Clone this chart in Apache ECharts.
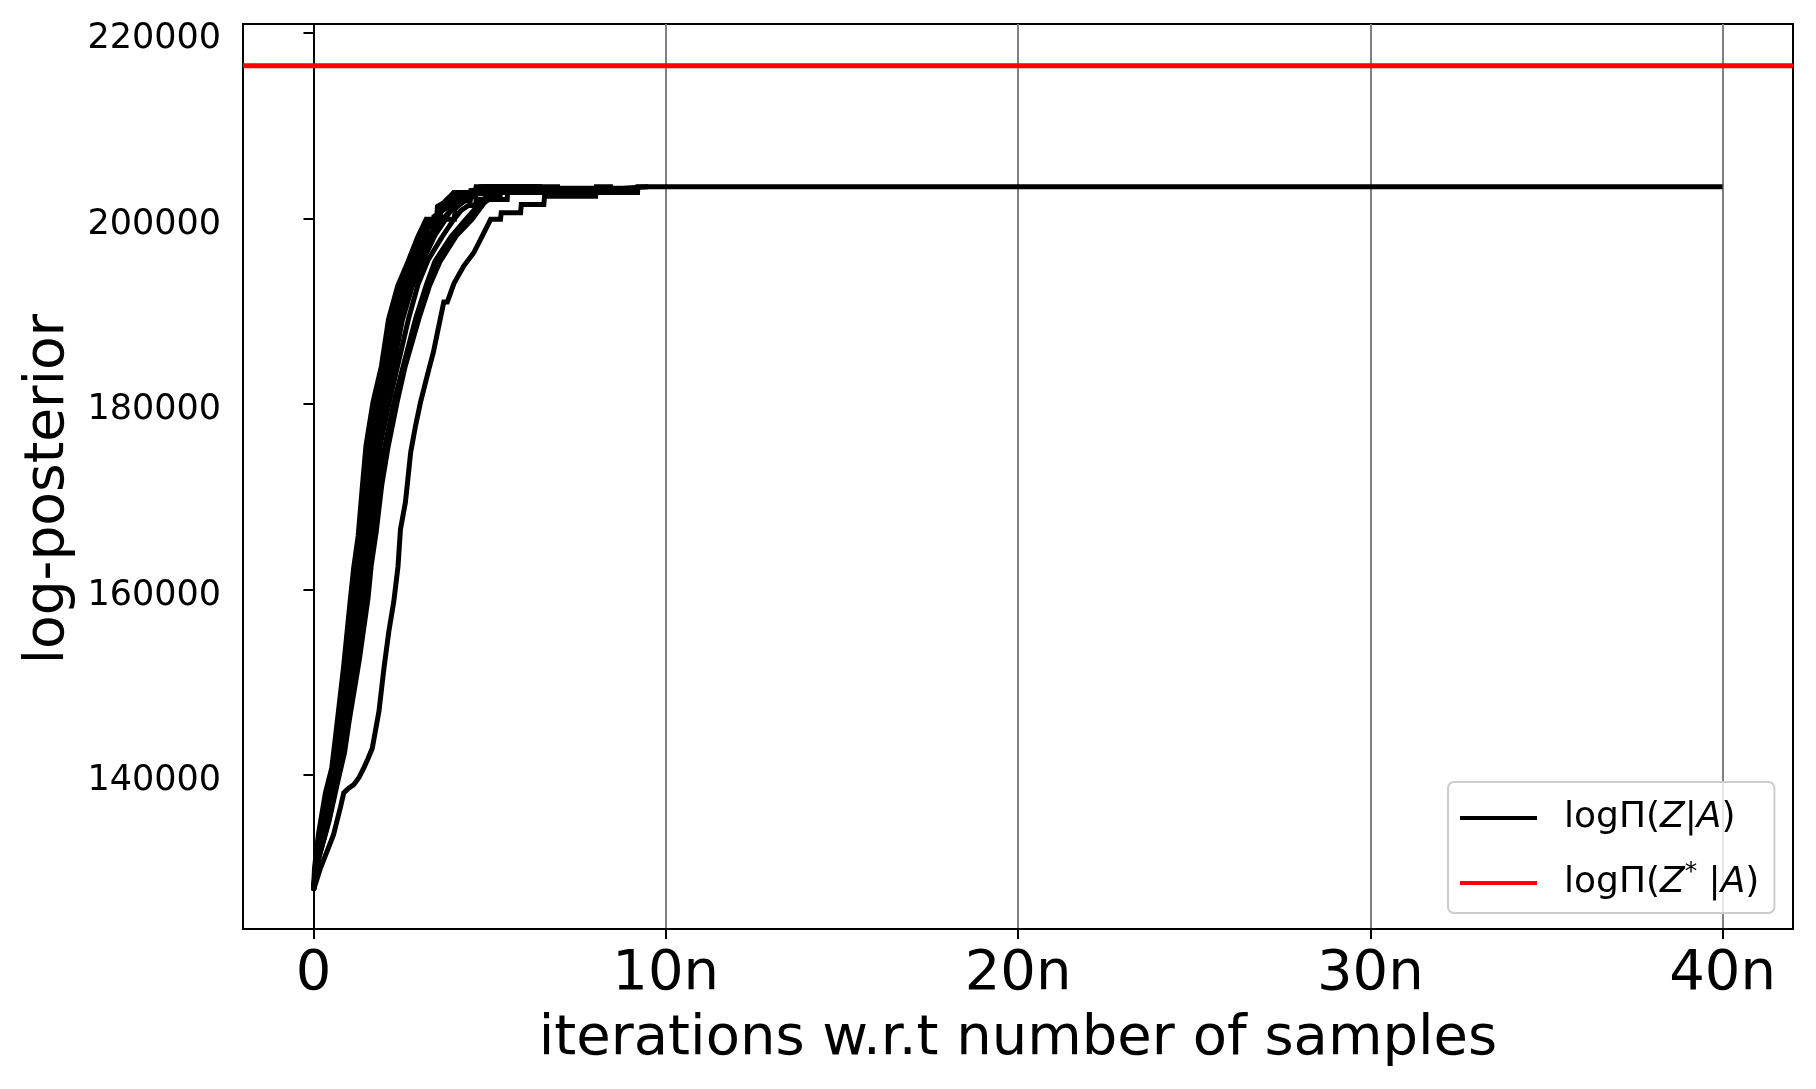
<!DOCTYPE html>
<html>
<head>
<meta charset="utf-8">
<script src="https://cdn.jsdelivr.net/npm/echarts@6/dist/echarts.min.js"></script>
<style>
html,body{margin:0;padding:0;background:#fff;}
#c{width:1816px;height:1089px;}
</style>
</head>
<body>
<div id="c"></div>
<script>
// ---- data (x in units of n = number of samples, y = log-posterior) ----
const xTickValues = [0, 10, 20, 30, 40];
const xTickLabels = ['0', '10n', '20n', '30n', '40n'];
const yTickValues = [140000, 160000, 180000, 200000, 220000];
const optimumValue = 216450;   // log Pi(Z*|A)
const xRange = [-2, 42];
const yRange = [123430, 220950];

const runSlow = [[0,127600],[0.2,130000],[0.57,133600],[0.77,136600],[0.86,138100],[1.0,138600],[1.15,139000],[1.3,139800],[1.43,140800],[1.55,141800],[1.67,142900],[1.86,146900],[2.0,151500],[2.14,155500],[2.28,158700],[2.4,162500],[2.47,166500],[2.61,169400],[2.76,174800],[2.9,177700],[3.04,180200],[3.18,182300],[3.28,183800],[3.4,185500],[3.52,187700],[3.7,191000],[3.8,191000],[3.99,193000],[4.27,194900],[4.55,196300],[4.79,198100],[5.03,199900],[5.31,199900],[5.33,200600],[5.88,200600],[5.9,201500],[6.54,201500],[6.56,202380],[8.01,202380],[8.03,203400],[8.5,203400]];
const runA = [[0,127600],[0.07,130300],[0.22,133900],[0.44,138200],[0.6,141100],[0.72,144600],[0.93,151300],[1.14,158600],[1.24,162200],[1.37,165700],[1.49,171100],[1.6,175300],[1.8,180100],[2.06,184200],[2.27,189000],[2.55,192800],[2.82,195400],[3.1,198000],[3.35,199500],[3.6,200800],[3.8,201900],[3.99,202800],[9.2,202800],[9.21,203400],[40,203400]];
const runB = [[0,127600],[0.03,130000],[0.14,133600],[0.34,138100],[0.52,140800],[0.63,144300],[0.85,151500],[1.04,158700],[1.14,162300],[1.27,165800],[1.39,171200],[1.49,175500],[1.69,180200],[1.93,184100],[2.13,189100],[2.39,192700],[2.68,195300],[2.96,198000],[3.2,199900],[3.5,199900],[3.52,201300],[3.7,201700],[3.99,202800],[4.74,202800],[4.75,203400],[5.2,203400]];
const runC = [[0,127600],[0.06,130200],[0.2,133800],[0.4,138000],[0.58,141000],[0.69,144500],[0.9,151200],[1.1,158500],[1.2,162000],[1.33,165600],[1.45,170800],[1.56,175200],[1.76,180000],[2.02,184300],[2.22,188800],[2.5,192500],[2.8,195000],[3.05,197600],[3.3,199700],[3.6,199700],[3.62,200900],[3.85,201800],[4.1,202500],[4.6,202500],[4.62,203400],[5.5,203400]];
const runD = [[0,127600],[0.08,130400],[0.25,134000],[0.46,138300],[0.63,141200],[0.75,144800],[0.97,151800],[1.17,158900],[1.27,162500],[1.4,166000],[1.52,171000],[1.63,175400],[1.84,180300],[2.1,184000],[2.32,189300],[2.6,192900],[2.9,195600],[3.2,198300],[3.4,198300],[3.42,200200],[3.8,201200],[4.05,201200],[4.07,202200],[4.5,202900],[4.9,202900],[4.92,203400],[6.0,203400]];
const runE = [[0,127600],[0.1,130600],[0.3,134200],[0.52,138600],[0.7,141600],[0.81,145000],[1.04,151700],[1.25,158400],[1.34,161900],[1.48,165500],[1.6,170600],[1.71,175000],[1.93,179800],[2.18,184200],[2.42,188600],[2.7,192300],[3.0,195100],[3.3,197900],[3.6,199600],[3.9,200900],[4.2,201900],[4.45,201900],[4.47,203000],[5.0,203200],[5.05,203400],[6.3,203400]];
const runF = [[0,127600],[0.12,130800],[0.36,134600],[0.58,138900],[0.76,141900],[0.88,145400],[1.12,152000],[1.33,158800],[1.43,162400],[1.56,166100],[1.69,171300],[1.8,175600],[2.03,180400],[2.27,184000],[2.52,189000],[2.8,192600],[3.1,195400],[3.45,198200],[3.75,199900],[4.0,199900],[4.02,201100],[4.3,201900],[4.6,202650],[5.0,202650],[5.02,203400],[6.5,203400]];
const runG = [[0,127600],[0.14,131000],[0.4,134800],[0.64,139200],[0.82,142200],[0.95,145700],[1.2,152300],[1.42,159000],[1.52,162700],[1.65,166300],[1.78,171500],[1.9,175700],[2.17,180500],[2.4,184300],[2.7,189200],[2.97,192900],[3.25,195500],[3.65,198000],[3.95,199700],[4.2,200900],[4.4,201400],[4.6,201400],[4.62,202050],[5.5,202050],[5.52,203400],[7.0,203400]];
const runH = [[0,127600],[0.16,131200],[0.44,135000],[0.7,139500],[0.88,142400],[1.02,146000],[1.3,152400],[1.55,159100],[1.64,162600],[1.78,166200],[1.94,171300],[2.12,175400],[2.38,180300],[2.6,184000],[3.0,189300],[3.3,192800],[3.6,195400],[4.05,198100],[4.5,199900],[4.85,201700],[5.15,202550],[5.3,202550],[5.32,203400],[6.2,203400]];
const runI = [[0,127600],[0.11,130700],[0.33,134400],[0.55,138700],[0.73,141700],[0.85,145200],[1.08,151900],[1.29,158600],[1.38,162100],[1.52,165900],[1.64,171000],[1.76,175300],[1.98,180000],[2.22,184100],[2.47,188900],[2.75,192400],[3.05,195200],[3.38,198100],[3.7,199800],[3.95,201100],[4.25,202300],[4.6,202300],[4.62,203250],[8.78,203250],[8.8,203400],[9.5,203400]];
const runJ = [[0,127600],[0.09,130500],[0.28,134100],[0.5,138400],[0.67,141400],[0.78,144900],[1.0,151600],[1.21,158700],[1.3,162200],[1.44,165700],[1.56,170900],[1.67,175200],[1.88,180100],[2.14,184100],[2.37,189000],[2.65,192600],[2.95,195300],[3.25,198000],[3.5,199300],[3.52,200500],[3.9,201600],[4.2,202700],[4.8,202700],[4.82,203400],[5.8,203400]];
const runK = [[0,127600],[0.15,131100],[0.42,134900],[0.67,139300],[0.85,142300],[0.98,145800],[1.25,152300],[1.48,159000],[1.58,162600],[1.71,166200],[1.87,171400],[2.03,175500],[2.3,180400],[2.55,184100],[2.9,189200],[3.2,192800],[3.45,195400],[3.9,198000],[4.3,199800],[4.65,201300],[4.9,202300],[5.15,202300],[5.17,203400],[6.4,203400]];

const runs = [runSlow, runA, runB, runC, runD, runE, runF, runG, runH, runI, runJ, runK];

// ---- chart ----
const FONT = '"DejaVu Sans", sans-serif';
const chart = echarts.init(document.getElementById('c'), null, {renderer: 'canvas'});

const series = runs.map(r => ({
  name: 'run',
  type: 'line',
  data: r,
  showSymbol: false,
  symbol: 'none',
  lineStyle: {color: '#000', width: 5, cap: 'butt', join: 'miter'},
  itemStyle: {color: '#000'},
  animation: false,
  z: 3
}));
series.push({
  name: 'opt',
  type: 'line',
  data: [[xRange[0], optimumValue], [xRange[1], optimumValue]],
  showSymbol: false,
  symbol: 'none',
  lineStyle: {color: '#ff0000', width: 5},
  itemStyle: {color: '#ff0000'},
  animation: false,
  z: 4
});

const legendText = {
  run: '{n|logΠ(}{i|Z}{n||}{i|A}{n|)}',
  opt: '{n|logΠ(}{i|Z}{s|*}{n| |}{i|A}{n|)}'
};

chart.setOption({
  animation: false,
  backgroundColor: '#fff',
  grid: {left: 243, right: 23, top: 24, bottom: 160, show: true, borderColor: '#000', borderWidth: 2, containLabel: false},
  xAxis: {
    type: 'value',
    min: xRange[0], max: xRange[1],
    name: 'iterations w.r.t number of samples',
    nameLocation: 'middle',
    nameGap: 82,
    nameTextStyle: {fontFamily: FONT, fontSize: 56, color: '#000'},
    axisLine: {show: true, lineStyle: {color: '#000', width: 2}},
    axisTick: {show: true, length: 10, lineStyle: {color: '#000', width: 2}, customValues: xTickValues},
    axisLabel: {
      fontFamily: FONT, fontSize: 56, color: '#000', margin: 17,
      customValues: xTickValues,
      formatter: v => xTickLabels[xTickValues.indexOf(v)]
    },
    splitLine: {show: true, lineStyle: {color: '#808080', width: 2}}
  },
  yAxis: {
    type: 'value',
    min: yRange[0], max: yRange[1],
    name: 'log-posterior',
    nameLocation: 'middle',
    nameGap: 155,
    nameRotate: 90,
    nameTextStyle: {fontFamily: FONT, fontSize: 55, color: '#000', padding: [0, 25, 0, 0]},
    axisLine: {show: true, lineStyle: {color: '#000', width: 2}},
    axisTick: {show: true, length: 10, lineStyle: {color: '#000', width: 2}, customValues: yTickValues},
    axisLabel: {fontFamily: FONT, fontSize: 35, color: '#000', margin: 22,
      verticalAlign: 'top', lineHeight: 12,
      customValues: yTickValues, formatter: v => String(v)},
    splitLine: {show: false}
  },
  legend: {
    data: ['run', 'opt'],
    orient: 'vertical',
    left: 1448, top: 782,
    icon: 'rect',
    itemWidth: 77, itemHeight: 4,
    itemGap: 24,
    padding: [18, 15, 12, 12],
    backgroundColor: 'rgba(255,255,255,0.8)',
    borderColor: '#cccccc', borderWidth: 2, borderRadius: 6,
    formatter: name => legendText[name],
    textStyle: {
      fontFamily: FONT, fontSize: 36, color: '#000', padding: [0, 0, 0, 22],
      rich: {
        n: {fontFamily: FONT, fontSize: 36, color: '#000', lineHeight: 46},
        i: {fontFamily: FONT, fontSize: 36, fontStyle: 'italic', color: '#000', lineHeight: 46},
        s: {fontFamily: FONT, fontSize: 25, color: '#000', verticalAlign: 'top', lineHeight: 25}
      }
    }
  },
  series: series
});
</script>
</body>
</html>
